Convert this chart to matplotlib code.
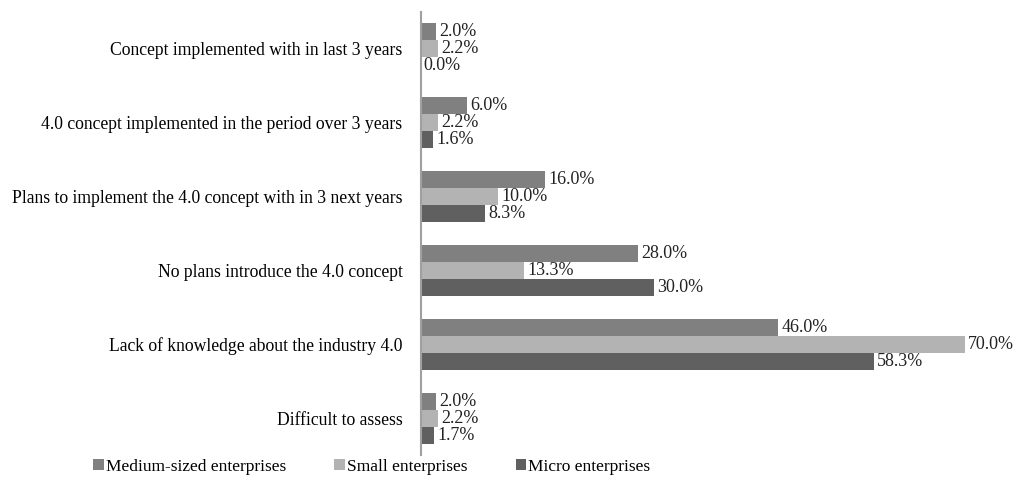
import matplotlib.pyplot as plt
import numpy as np

categories = ['Concept implemented with in last 3 years',
              '4.0 concept implemented in the period over 3 years',
              'Plans to implement the 4.0 concept with in 3 next years',
              'No plans introduce the 4.0 concept',
              'Lack of knowledge about the industry 4.0',
              'Difficult to assess']
series = ['Medium-sized enterprises', 'Small enterprises', 'Micro enterprises']
medium = [2.0, 6.0, 16.0, 28.0, 46.0, 2.0]
small = [2.2, 2.2, 10.0, 13.3, 70.0, 2.2]
micro = [0.0, 1.6, 8.3, 30.0, 58.3, 1.7]
colors = ['#808080', '#b3b3b3', '#606060']

plt.rcParams['font.family'] = ['Liberation Serif', 'DejaVu Serif']

fig = plt.figure(figsize=[10.21, 4.8], dpi=100)
ax = fig.add_axes([0.412, 0.052, 0.533, 0.923])

y = np.arange(len(categories))
h = 0.23
for k, (vals, col) in enumerate(zip([medium, small, micro], colors)):
    pos = y + (k - 1) * h
    ax.barh(pos, vals, height=h, color=col, label=series[k])
    for p, v in zip(pos, vals):
        ax.text(v + 0.4, p, '%.1f%%' % v, va='center', ha='left',
                fontsize=13, color='#222222', clip_on=False)

ax.set_ylim(len(categories) - 0.5, -0.5)
ax.set_xlim(0, 70)
ax.set_yticks(y)
ax.set_yticklabels(categories, fontsize=12.7)
ax.tick_params(axis='y', length=0, pad=13)
ax.set_xticks([])
for s in ['top', 'right', 'bottom']:
    ax.spines[s].set_visible(False)
ax.spines['left'].set_color('#a0a0a0')
ax.spines['left'].set_linewidth(1.5)

fig.legend(loc='lower center', bbox_to_anchor=(0.364, -0.022), ncol=3,
           frameon=False, fontsize=12.5, handlelength=0.6, handleheight=0.6,
           handletextpad=0.1, columnspacing=2.8)

plt.savefig('out.png', dpi=100)
plt.close()
